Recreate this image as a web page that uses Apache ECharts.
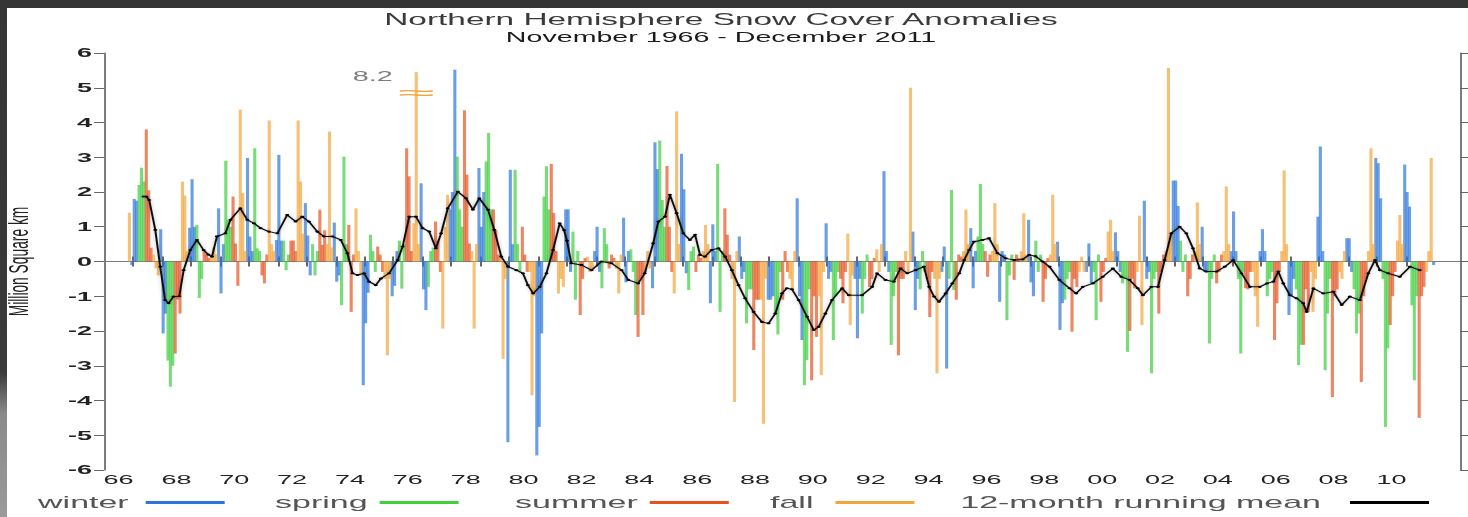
<!DOCTYPE html>
<html>
<head>
<meta charset="utf-8">
<title>Northern Hemisphere Snow Cover Anomalies</title>
<script src="https://cdn.jsdelivr.net/npm/echarts@6/dist/echarts.min.js"></script>
<style>
  html, body { margin: 0; padding: 0; background: #fff; overflow: hidden; }
  #wrap { position: relative; width: 1468px; height: 517px; overflow: hidden; background: #fff; }
  /* the source picture is stretched sideways, so the chart is drawn narrow and widened */
  #chart { position: absolute; left: 0; top: 0; width: 734px; height: 517px; transform: scaleX(2); transform-origin: 0 0; }
  .frame-top { position: absolute; left: 0; top: 0; width: 1468px; height: 8px; background: #353535; }
  .frame-left { position: absolute; left: 0; top: 0; width: 7px; height: 517px; background: linear-gradient(#353535 0%, #3a3a3a 72%, #8a8a8a 80%, #9a9a9a 100%); }
</style>
</head>
<body>
<div id="wrap">
  <div id="chart"></div>
  <div class="frame-top"></div>
  <div class="frame-left"></div>
</div>
<script>
// monthly snow cover anomalies, million km2, November 1966 .. December 2011
const firstYear = 1966;
const firstMonth = 10; // 0 = January, so November
const anomaly = [
  1.4, -0.1,                                                            // 1966 Nov-Dec
  1.8, 1.75, 2.2, 2.7, 2.3, 3.8, 2.05, 0.4, 0.2, -0.2, -0.4, 0.93,      // 1967
  -2.07, -1.5, -2.85, -3.6, -3.0, -2.65, -1.1, -1.5, 2.3, 1.9, 0.3, 0.97, // 1968
  2.37, 1.0, 1.05, -1.05, -0.5, 0.3, 0.2, 0.1, 0.2, 0.4, 0.2, 1.53,     // 1969
  -0.92, 0.5, 2.9, 1.2, 1.0, 1.87, 0.52, -0.7, 4.37, 1.97, 0.3, 2.98,   // 1970
  0.72, 0.3, 3.26, 0.38, 0.3, -0.4, -0.63, 0.2, 4.06, 0.5, 0.3, 0.62,   // 1971
  3.07, 0.6, 0.6, -0.25, 0.2, 0.6, 0.6, 0.3, 4.06, 2.3, 0.8, 1.68,      // 1972
  0.75, -0.4, 0.5, -0.4, 0.3, 1.49, 0.48, 0.9, 0.5, 3.74, 0.4, 1.12,    // 1973
  -0.58, -0.4, -1.26, 3.02, 0.5, 1.05, -1.45, 0.2, 1.53, 0.3, -0.4, -3.56, // 1974
  -1.78, -0.9, 0.77, 0.3, -0.3, 0.43, 0.2, -0.3, -0.5, -2.7, -0.5, -1.0, // 1975
  -0.7, 0.3, 0.6, -0.78, 0.5, 3.26, 2.45, 0.3, 1.1, 8.2, 0.5, 2.25,     // 1976
  -0.8, -1.4, -0.73, 0.3, 0.4, 1.15, 0.6, -0.3, -1.93, 1.0, 1.92, 1.5,  // 1977
  2.0, 5.52, 3.02, 1.5, 1.0, 4.35, 2.5, 0.52, 0.3, -1.93, 0.5, 2.69,    // 1978
  1.0, 2.0, 2.88, 3.7, 1.5, 1.5, 0.9, 0.2, 0.2, -2.8, -0.5, -5.2,       // 1979
  2.64, 0.5, 2.64, 0.5, -0.3, 1.0, 0.2, -0.3, -0.3, -3.85, -1.0, -5.58, // 1980
  -4.76, -2.07, 1.87, 2.74, 1.5, 2.81, 1.4, 0.3, -0.92, -0.5, -0.73, 1.5, // 1981
  1.5, -0.3, 0.86, -1.1, 0.3, -1.54, -0.5, 0.1, 0.14, -0.3, -0.2, 0.3,  // 1982
  1.0, -0.3, -0.77, 0.96, 0.5, -0.2, 0.2, 0.1, -0.2, -0.92, 0.2, 1.26,  // 1983
  -0.6, 0.3, 0.35, -0.3, -1.54, -2.17, -0.5, -1.54, -0.3, 0.3, -0.2, -0.77, // 1984
  3.43, 2.66, 3.48, 1.77, 1.0, 2.75, 1.0, -0.3, -0.92, 4.32, 0.5, 3.1,  // 1985
  2.08, -0.34, -0.82, 0.3, 0.43, -0.3, 0.2, 0.1, 0.3, 1.05, 0.5, -1.2,  // 1986
  1.07, 0.3, 2.81, -1.45, 0.3, 1.53, 0.77, 0.2, -0.5, -4.04, 0.3, 0.72, // 1987
  -0.5, -0.3, -1.78, -0.8, -0.8, -2.55, -1.1, -1.1, -1.1, -4.67, -0.5, -1.1, // 1988
  -1.1, -1.0, -1.5, -2.1, -0.3, -1.1, 0.3, -0.3, -0.5, -0.8, 0.3, 1.82, // 1989
  -1.0, -2.26, -3.56, -2.84, -0.8, -3.42, -1.0, -2.17, -1.0, -3.27, -0.3, 1.1, // 1990
  -0.5, -0.3, -2.26, -1.0, -0.3, -0.5, -1.2, -0.3, 0.8, -1.83, -0.4, -0.5, // 1991
  -2.21, -0.5, -1.5, -0.5, 0.2, -0.73, -0.5, 0.1, 0.35, -0.3, 0.5, 2.6, // 1992
  0.3, -0.3, -2.4, -1.0, -0.3, -2.7, -0.5, -0.5, 0.3, -0.3, 5.0, 0.86,  // 1993
  -1.4, -0.5, -0.8, 0.3, -0.3, -0.5, -1.6, -0.3, -0.5, -3.22, -0.5, -0.3, // 1994
  0.43, -3.08, -0.5, 2.06, -0.82, -1.1, 0.2, 0.14, 0.3, 1.49, 0.5, 0.96, // 1995
  -0.77, 0.3, 0.72, 2.23, 0.5, 0.3, -0.44, 0.2, 0.3, 1.68, 0.5, -1.16,  // 1996
  0.3, 0.2, -1.69, -0.4, 0.2, -0.53, 0.2, 0.1, 0.3, 1.39, 0.2, 1.2,     // 1997
  -0.6, -1.0, 0.6, -0.3, 0.2, -1.16, -0.5, 0.1, 0.2, 1.92, 0.5, 0.57,   // 1998
  -1.97, -1.2, -1.1, -0.5, -0.3, -2.02, -0.5, -0.73, -0.3, 0.14, -0.3, -0.3, // 1999
  0.52, -0.63, -0.3, -1.69, 0.2, -1.16, -0.3, 0.1, 0.86, 1.2, 0.3, 0.84, // 2000
  0.3, -0.3, -0.63, -0.5, -2.6, -2.0, -0.5, -0.77, -0.3, 1.32, -1.83, 1.75, // 2001
  -0.5, -0.3, -3.22, -0.5, -0.3, -1.5, -0.3, 0.2, 0.3, 5.57, 0.8, 2.33, // 2002
  2.33, 1.6, 0.6, -0.3, 0.2, -1.0, -0.5, 0.2, 0.3, 1.7, 0.5, 1.0,       // 2003
  -0.3, -0.3, -2.36, -0.5, 0.2, -0.63, -0.3, 0.2, 0.3, 2.16, 0.5, 0.3,  // 2004
  1.44, 0.3, -0.5, -2.65, -0.3, -0.77, -0.8, -0.3, -0.3, -1.0, -1.88, 0.3, // 2005
  0.93, 0.3, -1.0, -0.5, -0.3, -2.26, -1.2, -0.3, 0.3, 2.62, 0.5, -1.54, // 2006
  -1.0, -0.5, -0.8, -2.98, -2.4, -2.4, -0.8, -1.45, -0.3, -1.45, -0.5, 1.29, // 2007
  3.31, 0.3, -3.13, -1.5, -0.5, -3.9, -1.0, -0.8, -0.3, -0.5, 0.3, 0.67, // 2008
  0.67, -0.3, -0.8, -2.07, -1.5, -3.47, -1.0, -0.5, 0.3, 3.26, 0.5, 2.98, // 2009
  2.83, 1.82, -0.5, -4.76, -2.5, -1.83, -1.0, -0.3, 0.6, 1.34, 0.5, 2.79, // 2010
  2.0, 1.58, -1.26, -3.42, -1.0, -4.5, -1.0, -0.73, -0.3, 0.3, 2.98, -0.1  // 2011
];

// 12-month running mean: [decimal year, value]
const runningMean = [
  [1967.36, 1.87], [1967.46, 1.87], [1967.56, 1.77], [1967.77, 0.91], [1967.94, -0.15],
  [1968.11, -1.11], [1968.23, -1.2], [1968.40, -1.01], [1968.6, -1.0], [1968.75, -0.25],
  [1968.98, 0.33], [1969.21, 0.62], [1969.44, 0.33], [1969.6, 0.2], [1969.73, 0.14],
  [1969.9, 0.72], [1970.19, 0.81], [1970.37, 1.2], [1970.71, 1.53], [1970.95, 1.2],
  [1971.18, 1.1], [1971.41, 0.96], [1971.70, 0.86], [1971.99, 0.81], [1972.33, 1.34],
  [1972.62, 1.15], [1972.85, 1.29], [1973.08, 1.15], [1973.37, 0.86], [1973.60, 0.72],
  [1973.89, 0.72], [1974.18, 0.62], [1974.41, 0.24], [1974.59, -0.34], [1974.76, -0.39],
  [1974.99, -0.34], [1975.16, -0.58], [1975.39, -0.68], [1975.57, -0.49], [1975.85, -0.34],
  [1976.15, 0.04], [1976.32, 0.43], [1976.55, 1.29], [1976.78, 1.29], [1977.01, 0.96],
  [1977.24, 0.86], [1977.47, 0.38], [1977.65, 0.81], [1977.88, 1.53], [1978.23, 2.01],
  [1978.51, 1.82], [1978.75, 1.49], [1978.97, 1.82], [1979.27, 1.49], [1979.49, 0.91],
  [1979.73, 0.14], [1979.96, -0.15], [1980.25, -0.25], [1980.48, -0.34], [1980.65, -0.68],
  [1980.83, -0.92], [1981.06, -0.73], [1981.29, -0.34], [1981.52, 0.33], [1981.75, 1.1],
  [1981.9, 0.9], [1982.0, 0.6], [1982.15, -0.05], [1982.5, -0.1], [1982.85, -0.25],
  [1983.19, 0.0], [1983.54, -0.05], [1983.89, -0.25], [1984.12, -0.53], [1984.46, -0.63],
  [1984.69, -0.34], [1984.98, 0.52], [1985.16, 1.15], [1985.39, 1.29], [1985.56, 1.92],
  [1985.79, 1.39], [1986.02, 0.81], [1986.25, 0.62], [1986.43, 0.77], [1986.6, 0.19],
  [1986.77, 0.14], [1987.0, 0.33], [1987.24, 0.38], [1987.47, 0.14], [1987.70, -0.25],
  [1987.93, -0.68], [1988.16, -1.06], [1988.45, -1.45], [1988.74, -1.74], [1988.97, -1.78],
  [1989.2, -1.5], [1989.43, -0.92], [1989.6, -0.77], [1989.78, -0.8], [1990.01, -1.11],
  [1990.30, -1.59], [1990.53, -1.97], [1990.70, -1.88], [1990.93, -1.5], [1991.16, -1.11],
  [1991.51, -0.77], [1991.74, -0.97], [1992.2, -0.97], [1992.55, -0.73], [1992.72, -0.34],
  [1993.01, -0.53], [1993.3, -0.58], [1993.53, -0.2], [1993.76, -0.34], [1994.05, -0.25],
  [1994.34, -0.15], [1994.52, -0.73], [1994.69, -1.01], [1994.86, -1.16], [1995.09, -0.92],
  [1995.32, -0.63], [1995.56, -0.34], [1995.73, 0.04], [1995.90, 0.33], [1996.07, 0.57],
  [1996.36, 0.62], [1996.59, 0.67], [1996.88, 0.24], [1997.17, 0.09], [1997.46, 0.04],
  [1997.75, 0.06], [1997.98, 0.19], [1998.2, 0.15], [1998.44, 0.0], [1998.68, -0.15],
  [1999.02, -0.53], [1999.37, -0.77], [1999.60, -0.92], [1999.83, -0.73], [2000.18, -0.63],
  [2000.52, -0.44], [2000.87, -0.2], [2001.16, -0.44], [2001.45, -0.53], [2001.73, -0.77],
  [2001.91, -0.97], [2002.2, -0.73], [2002.43, -0.73], [2002.66, 0.04], [2002.89, 0.81],
  [2003.18, 1.0], [2003.41, 0.81], [2003.64, 0.38], [2003.87, -0.2], [2004.1, -0.29],
  [2004.45, -0.29], [2004.74, -0.15], [2005.03, 0.04], [2005.32, -0.34], [2005.61, -0.73],
  [2005.95, -0.73], [2006.2, -0.63], [2006.42, -0.58], [2006.59, -0.29], [2006.76, -0.63],
  [2006.99, -0.97], [2007.22, -1.06], [2007.45, -1.2], [2007.57, -1.45], [2007.8, -0.77],
  [2008.14, -0.92], [2008.49, -0.87], [2008.78, -1.25], [2009.06, -1.01], [2009.41, -1.11],
  [2009.7, -0.34], [2009.93, 0.04], [2010.10, -0.25], [2010.39, -0.34], [2010.79, -0.44],
  [2011.14, -0.15], [2011.48, -0.25]
];

const seasonNames = ['winter', 'spring', 'summer', 'fall'];
const monthSeason = [0, 0, 1, 1, 1, 2, 2, 2, 3, 3, 3, 0]; // Jan..Dec
const meanName = '12-month running mean';
const yearLabels = ['66', '68', '70', '72', '74', '76', '78', '80', '82', '84', '86',
  '88', '90', '92', '94', '96', '98', '00', '02', '04', '06', '08', '10'];

// styles (sizes are before the 2x sideways stretch)
const seasonColors = ['#2b76dc', '#3fcf3f', '#e6521f', '#f2a53c'];
const font = '"Liberation Sans", Arial, sans-serif';
const axisColor = '#7c7c7c';
const yTop = 6;              // bars above the scale are drawn broken
const capAt = 5.45;
const xMin = 1966, xMax = 2012.87;
const legendLeft = [19, 137.5, 257.5, 385, 480];
const legendGap = [3.5, 1, 1, 6, 9.5];

const tickYears = [];
for (let y = 1967; y <= 2011; y++) tickYears.push(y);
const labelValues = yearLabels.map((s, i) => xMin + 0.5 + 2 * i);

const seasonData = seasonNames.map(() => []);
const breaks = [];
anomaly.forEach((v, i) => {
  const m = firstMonth + i;
  const t = firstYear + (m + 0.5) / 12;
  const s = monthSeason[m % 12];
  if (v > yTop) {
    seasonData[s].push({
      value: [t, capAt],
      label: {
        show: true, formatter: String(v), position: [-11, 4],
        align: 'right', verticalAlign: 'middle',
        fontFamily: font, fontSize: 14.4, color: '#444'
      }
    });
    breaks.push({ coord: [t, capAt - 0.6] });
  } else {
    seasonData[s].push([t, v]);
  }
});

const chart = echarts.init(document.getElementById('chart'), null, {
  renderer: 'svg', width: 734, height: 517
});

const series = seasonNames.map((name, s) => ({
  name: name,
  type: 'bar',
  xAxisIndex: 0,
  yAxisIndex: 0,
  data: seasonData[s],
  barWidth: 1.55,
  barGap: '-100%',
  itemStyle: { color: seasonColors[s], opacity: 0.7 },
  emphasis: { disabled: true },
  animation: false,
  markPoint: s === 3 ? {
    symbol: 'path://M0,0.6 Q5,0 10,0.6 T20,0.6 L20,1.8 Q15,2.4 10,1.8 T0,1.8 Z M0,4.2 Q5,3.6 10,4.2 T20,4.2 L20,5.4 Q15,6 10,5.4 T0,5.4 Z',
    symbolSize: [16.5, 6],
    itemStyle: { color: seasonColors[3] },
    label: { show: false },
    data: breaks
  } : undefined
}));

series.push({
  name: meanName,
  type: 'line',
  xAxisIndex: 0,
  yAxisIndex: 0,
  data: runningMean,
  symbol: 'circle',
  symbolSize: 2,
  showSymbol: true,
  itemStyle: { color: '#000' },
  lineStyle: { color: '#111', width: 1, shadowColor: 'rgba(0,0,0,0.3)', shadowBlur: 2 },
  z: 5,
  animation: false
});

const legendNames = seasonNames.concat([meanName]);
const legendColors = seasonColors.concat(['#000']);

chart.setOption({
  backgroundColor: '#fff',
  animation: false,
  title: [
    {
      text: 'Northern Hemisphere Snow Cover Anomalies',
      left: 360.5, top: 11, padding: 0, textAlign: 'center',
      textStyle: { fontFamily: font, fontSize: 16.7, fontWeight: 'normal', color: '#3a3a3a' }
    },
    {
      text: 'November 1966 - December 2011',
      left: 360.5, top: 30.5, padding: 0, textAlign: 'center',
      textStyle: { fontFamily: font, fontSize: 14.3, fontWeight: 'normal', color: '#1a1a1a' }
    }
  ],
  legend: legendNames.map((name, i) => ({
    data: [{ name: name, itemStyle: { color: legendColors[i], opacity: 1 } }],
    left: legendLeft[i],
    top: 494,
    padding: 0,
    align: 'right',
    icon: 'rect',
    itemWidth: 39.5,
    itemHeight: 3,
    selectedMode: false,
    textStyle: { fontFamily: font, fontSize: 17, color: '#555', padding: [0, legendGap[i], 0, 0] }
  })),
  grid: { left: 52.04, right: 4, top: 53, bottom: 47, outerBoundsMode: 'none', containLabel: false },
  xAxis: [
    {
      type: 'value', position: 'bottom', min: xMin, max: xMax,
      axisLine: { show: true, lineStyle: { color: axisColor, width: 1 } },
      axisTick: { show: true, inside: true, length: 5, customValues: tickYears, lineStyle: { color: '#666' } },
      axisLabel: {
        customValues: labelValues, margin: 3,
        formatter: v => yearLabels[Math.round((v - xMin - 0.5) / 2)],
        fontFamily: font, fontSize: 13.5, color: '#222'
      },
      splitLine: { show: false }
    },
    {
      type: 'value', position: 'top', min: xMin, max: xMax,
      axisLine: { show: true, lineStyle: { color: axisColor, width: 1 } },
      axisTick: { show: true, inside: true, length: 5, customValues: tickYears, lineStyle: { color: '#666' } },
      axisLabel: { show: false },
      splitLine: { show: false }
    }
  ],
  yAxis: [
    {
      type: 'value', position: 'left', min: -6, max: 6, interval: 1,
      name: 'Million Square km', nameLocation: 'middle', nameGap: 36,
      nameTextStyle: { fontFamily: font, fontSize: 13.8, color: '#222' },
      axisLine: { show: true, lineStyle: { color: axisColor, width: 1 } },
      axisTick: { show: true, inside: false, length: 5, lineStyle: { color: '#666' } },
      axisLabel: { margin: 6, fontFamily: font, fontSize: 13.5, fontWeight: 'bold', color: '#222' },
      splitLine: { show: false }
    },
    {
      type: 'value', position: 'right', min: -6, max: 6, interval: 1,
      axisLine: { show: true, lineStyle: { color: axisColor, width: 1 } },
      axisTick: { show: true, inside: false, length: 4, lineStyle: { color: '#666' } },
      axisLabel: { show: false },
      splitLine: { show: false }
    }
  ],
  series: series
});
</script>
</body>
</html>
